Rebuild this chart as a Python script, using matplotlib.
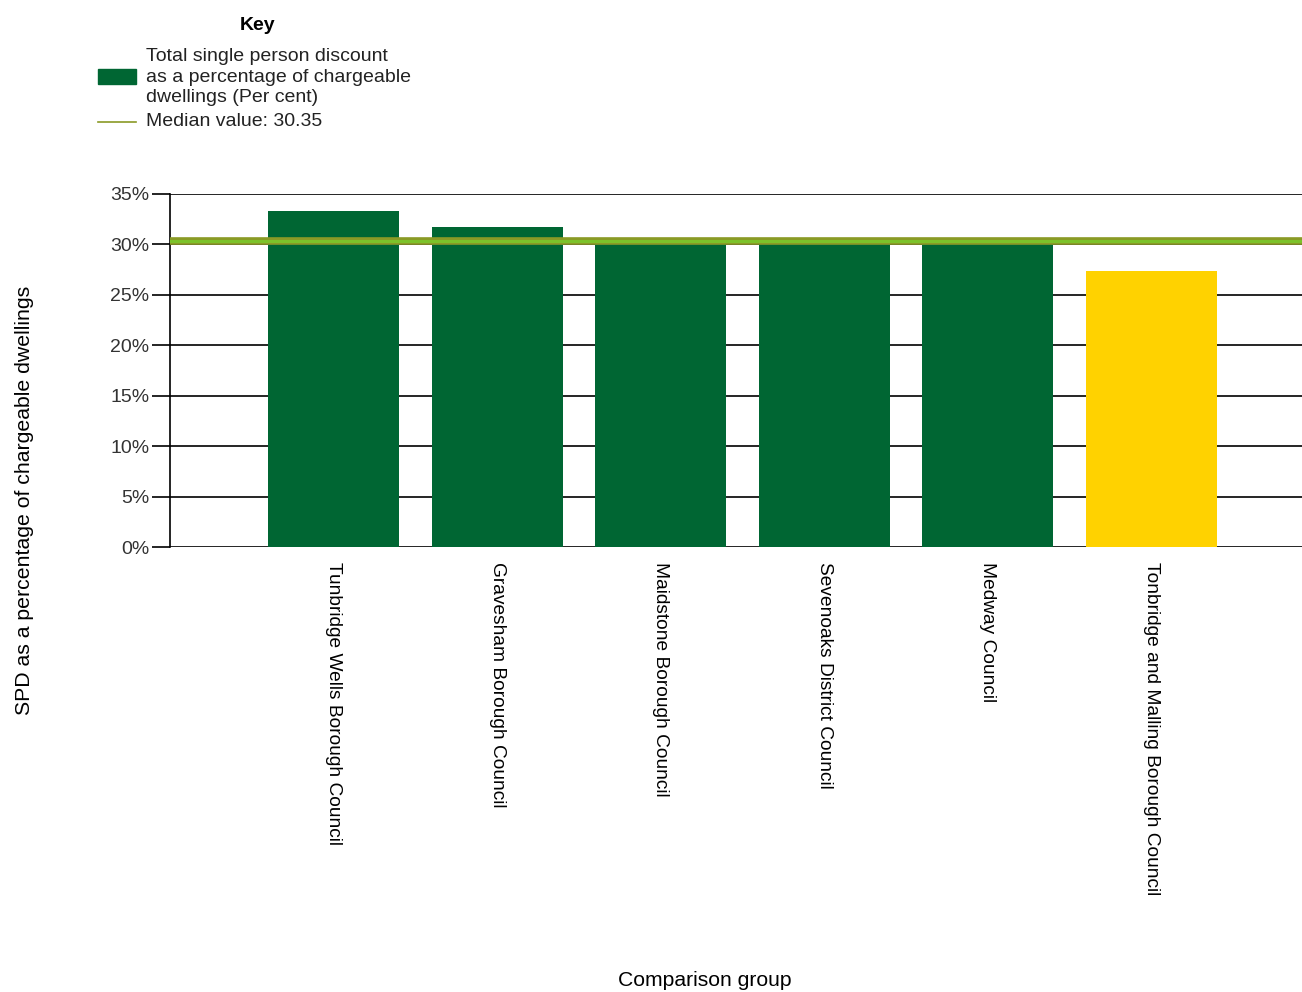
import matplotlib.pyplot as plt
from matplotlib.patches import Rectangle
from matplotlib.lines import Line2D

plt.rcParams['font.family'] = ['Liberation Sans', 'DejaVu Sans']

councils = ["Tunbridge Wells Borough Council", "Gravesham Borough Council",
            "Maidstone Borough Council", "Sevenoaks District Council",
            "Medway Council", "Tonbridge and Malling Borough Council"]
spd_pct = [33.3, 31.75, 30.4, 30.3, 30.05, 27.4]
bar_colours = ["#006633", "#006633", "#006633", "#006633", "#006633", "#ffd200"]
median_value = 30.35
y_ticks = [0, 5, 10, 15, 20, 25, 30, 35]

W, H = 1302, 992
fig = plt.figure(figsize=(W / 100, H / 100), dpi=100)
ax = fig.add_axes([170 / W, 1 - 547 / H, 1 - 170 / W, (547 - 194) / H])

x = list(range(len(councils)))
ax.bar(x, spd_pct, width=0.8, color=bar_colours, zorder=2)
ax.axhline(median_value, color="#8a9a26", lw=5.5, zorder=3)
ax.axhline(median_value, color="#7cc22a", lw=2.2, zorder=4)

ax.set_xlim(-1, 5.92)
ax.set_ylim(0, 35)
ax.set_yticks(y_ticks)
ax.set_yticklabels([f"{t}%" for t in y_ticks], fontsize=14, color="#333333")
ax.yaxis.grid(True, color="black", lw=1.2, zorder=1)
ax.set_axisbelow(True)
ax.tick_params(axis="y", length=13, width=1.2, pad=2)
ax.set_xticks(x)
ax.set_xticklabels(councils, rotation=270, fontsize=13.8, va="top", ha="center")
ax.tick_params(axis="x", length=0, pad=11)
for s in ["top", "right", "bottom"]:
    ax.spines[s].set_visible(False)
ax.spines["left"].set_linewidth(1.2)

fig.text(25 / W, 1 - 500 / H, "SPD as a percentage of chargeable dwellings",
         rotation=90, ha="center", va="center", fontsize=15.3)
fig.text(705 / W, 1 - 981 / H, "Comparison group", ha="center", va="center", fontsize=15.2)

# key
fig.text(258 / W, 1 - 25 / H, "Key", ha="center", va="center", fontsize=14, fontweight="bold")
fig.patches.append(Rectangle((98 / W, 1 - 84 / H), 38 / W, 15 / H,
                             transform=fig.transFigure, color="#006633"))
fig.text(146 / W, 1 - 77 / H,
         "Total single person discount\nas a percentage of chargeable\ndwellings (Per cent)",
         ha="left", va="center", fontsize=14, linespacing=1.3, color="#222222")
fig.lines.append(Line2D([98 / W, 136 / W], [1 - 122 / H, 1 - 122 / H],
                        transform=fig.transFigure, color="#8a9a26", lw=1.2))
fig.text(146 / W, 1 - 122 / H, f"Median value: {median_value:.2f}",
         ha="left", va="center", fontsize=14, color="#222222")

fig.savefig("out.png", dpi=100)
